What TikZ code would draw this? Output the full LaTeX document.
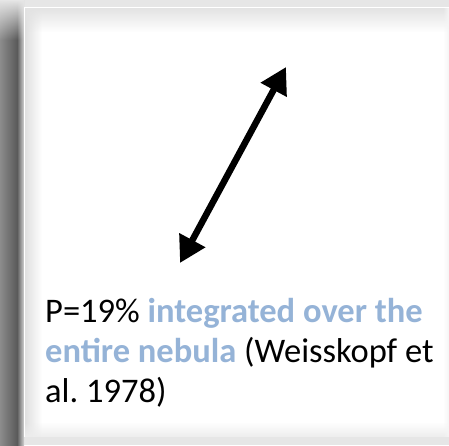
\documentclass[tikz,border=0pt]{standalone}
\usepackage{fontspec}
\setmainfont{Carlito}
\frenchspacing
\usetikzlibrary{arrows.meta,fadings}
\definecolor{bggray}{HTML}{E6E6E6}
\definecolor{shadeA}{HTML}{8C8C8C}
\definecolor{shadeB}{HTML}{5A5A5A}
\definecolor{shadeC}{HTML}{D2D2D2}
\definecolor{hiblue}{HTML}{95B3D7}
\tikzfading[name=fadedown, top color=transparent!0, bottom color=transparent!100]
\tikzfading[name=fadeup, top color=transparent!100, bottom color=transparent!0]
\tikzfading[name=faderight, left color=transparent!0, right color=transparent!100]
\tikzfading[name=fadeleft, left color=transparent!100, right color=transparent!0]
\tikzset{
  pol/.style={line width=6.5pt, {Triangle[length=26pt,width=28pt]}-{Triangle[length=26pt,width=28pt]}},
  captiontext/.style={font=\fontsize{34.5}{40}\selectfont, align=left, inner sep=0pt, anchor=base west}
}
\begin{document}
\begin{tikzpicture}[x=1pt,y=-1pt]
\useasboundingbox (0,0) rectangle (449,445);
% background
\fill[bggray] (0,0) rectangle (449,445);
% left shadow
\fill[left color=shadeA, right color=shadeB] (0,0) rectangle (17,445);
\fill[left color=shadeB, right color=shadeC] (17,0) rectangle (24,445);
\fill[bggray, path fading=fadedown] (0,0) rectangle (24,40);
% panel
\fill[white] (24,7) rectangle (449,437);
\fill[black!12, path fading=faderight] (25,8) rectangle (42,437);
\fill[black!11, path fading=fadedown] (25,8) rectangle (449,32);
\fill[black!7, path fading=fadeup] (25,422) rectangle (449,437);
\fill[black!4, path fading=fadeleft] (443,8) rectangle (449,437);
\draw[white, line width=1pt] (24,437) -- (24,7) -- (449,7);
% arrow
\coordinate (lo) at (180,263);
\coordinate (hi) at (286,67);
\draw[pol] (lo) -- (hi);
% caption
\node[captiontext] (caption) at (45,402) {P=19\% \textcolor{hiblue}{\bfseries integrated over the}\\\textcolor{hiblue}{\bfseries entire nebula} (Weisskopf et\\al. 1978)};
\end{tikzpicture}
\end{document}
